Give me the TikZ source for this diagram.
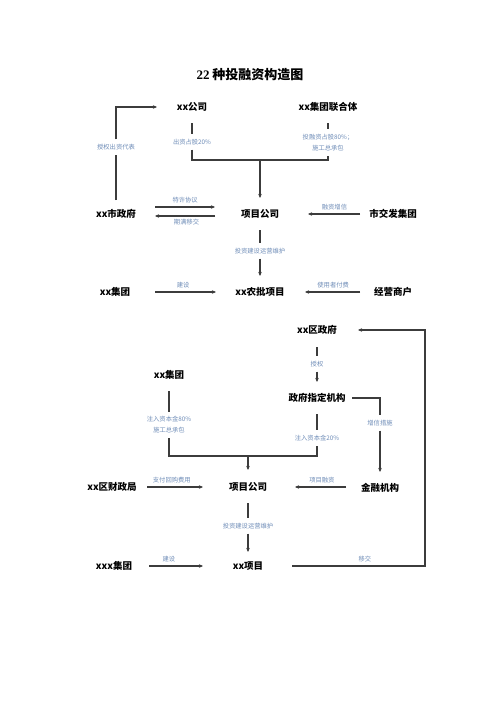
\documentclass[tikz,border=0pt]{standalone}
\usepackage{fontspec}
\setmainfont{Noto Sans CJK SC}
\newfontfamily\titlenum{Liberation Serif}
\usetikzlibrary{arrows.meta}
\definecolor{lnc}{HTML}{3C3C3C}
\definecolor{lblc}{HTML}{6F8DB8}
\begin{document}
\begin{tikzpicture}[x=1pt,y=-1pt,
  ent/.style={font=\fontsize{9.5}{11}\selectfont\bfseries, inner sep=0pt, text=black},
  lbl/.style={font=\fontsize{6.3}{11}\selectfont, text=lblc, inner xsep=1pt, inner ysep=4.5pt, align=center},
  ln/.style={draw=lnc, line width=1.1pt},
  arr/.style={ln, -{Stealth[length=4pt,width=3.5pt]}},
]
\useasboundingbox[fill=white] (0,0) rectangle (500,707);

% title
\node[font=\fontsize{13}{15}\selectfont\bfseries] (title) at (250,75) {{\titlenum 22} 种投融资构造图};

% ---------- top diagram ----------
\node[ent] (gs) at (192,107) {xx公司};
\node[ent] (lt) at (328,107) {xx集团联合体};
\node[ent] (zf) at (116,214) {xx市政府};
\node[ent] (xm) at (260,214) {项目公司};
\node[ent] (jf) at (393,214) {市交发集团};
\node[ent] (jt) at (115,292) {xx集团};
\node[ent] (nb) at (260,292) {xx农批项目};
\node[ent] (sh) at (393,292) {经营商户};

\node[lbl] (l1) at (116,147) {授权出资代表};
\node[lbl] (l2) at (192,142) {出资占股20\%};
\node[lbl] (l3) at (328,142.5) {投融资占股80\%；\\施工总承包};
\node[lbl] (l4) at (260,251) {投资建设运营维护};
\coordinate (j1) at (260,160);

\draw[ln, shorten <=14pt] (zf.center) -- (l1.south);
\draw[arr, shorten >=35pt] (l1.north) |- (gs.center);
\draw[ln, shorten <=16pt] (gs.center) -- (l2.north);
\draw[ln, shorten <=16pt] (lt.center) -- (l3.north);
\draw[ln] (l2.south) |- (j1) -| (l3.south);
\draw[arr, shorten >=16pt] (j1) -- (xm.center);

\draw[arr, shorten <=39pt, shorten >=45pt] ([yshift=7pt]zf.center) -- node[lbl, above, pos=.48, inner ysep=3pt] (t1) {特许协议} ([yshift=7pt]xm.center);
\draw[arr, shorten <=45pt, shorten >=39pt] ([yshift=-2pt]xm.center) -- node[lbl, below, pos=.51, inner ysep=3pt] (t2) {期满移交} ([yshift=-2pt]zf.center);
\draw[arr, shorten <=33pt, shorten >=48pt] (jf.center) -- node[lbl, above, pos=.44, inner ysep=3pt] (t3) {融资增信} (xm.center);

\draw[ln, shorten <=16pt] (xm.center) -- (l4.north);
\draw[arr, shorten >=16pt] (l4.south) -- (nb.center);

\draw[arr, shorten <=40pt, shorten >=44pt] (jt.center) -- node[lbl, above, pos=.47, inner ysep=3pt] (t4) {建设} (nb.center);
\draw[arr, shorten <=33pt, shorten >=45pt] (sh.center) -- node[lbl, above, pos=.45, inner ysep=3pt] (t5) {使用者付费} (nb.center);

% ---------- bottom diagram ----------
\node[ent] (qz) at (317,330) {xx区政府};
\node[ent] (zd) at (317,398) {政府指定机构};
\node[ent] (bj) at (169,375) {xx集团};
\node[ent] (cz) at (112,487) {xx区财政局};
\node[ent] (xm2) at (248,487) {项目公司};
\node[ent] (jr) at (380,488) {金融机构};
\node[ent] (xxj) at (114,566) {xxx集团};
\node[ent] (xp) at (248,566) {xx项目};

\node[lbl] (l5) at (317,364) {授权};
\node[lbl] (l6) at (169,425) {注入资本金80\%\\施工总承包};
\node[lbl] (l7) at (317,438) {注入资本金20\%};
\node[lbl] (l8) at (380,423) {增信措施};
\node[lbl] (l9) at (248,526) {投资建设运营维护};
\coordinate (j2) at (248,456);
\coordinate (j3) at (425,450);

\draw[ln, shorten <=17pt] (qz.center) -- (l5.north);
\draw[arr, shorten >=16pt] (l5.south) -- (zd.center);

\draw[ln, shorten <=16pt] (bj.center) -- (l6.north);
\draw[ln, shorten <=16pt] (zd.center) -- (l7.north);
\draw[ln] (l6.south) |- (j2) -| (l7.south);
\draw[arr, shorten >=17pt] (j2) -- (xm2.center);

\draw[ln, shorten <=35pt] (zd.center) -| (l8.north);
\draw[arr, shorten >=16pt] (l8.south) -- (jr.center);

\draw[arr, shorten <=35pt, shorten >=45pt] (cz.center) -- node[lbl, above, pos=.44, inner ysep=3pt] (t6) {支付回购费用} (xm2.center);
\draw[arr, shorten <=34pt, shorten >=47pt] ([yshift=1pt]jr.center) -- node[lbl, above, pos=.44, inner ysep=3pt] (t7) {项目融资} (xm2.center);

\draw[ln, shorten <=16pt] (xm2.center) -- (l9.north);
\draw[arr, shorten >=14pt] (l9.south) -- (xp.center);

\draw[arr, shorten <=35pt, shorten >=45pt] (xxj.center) -- node[lbl, above, pos=.41, inner ysep=3pt] (t8) {建设} (xp.center);
\draw[arr, shorten <=44pt, shorten >=41pt] (xp.center) -| node[lbl, above, pos=.33, inner ysep=3pt] (t9) {移交} (j3) |- (qz.center);

\end{tikzpicture}
\end{document}
